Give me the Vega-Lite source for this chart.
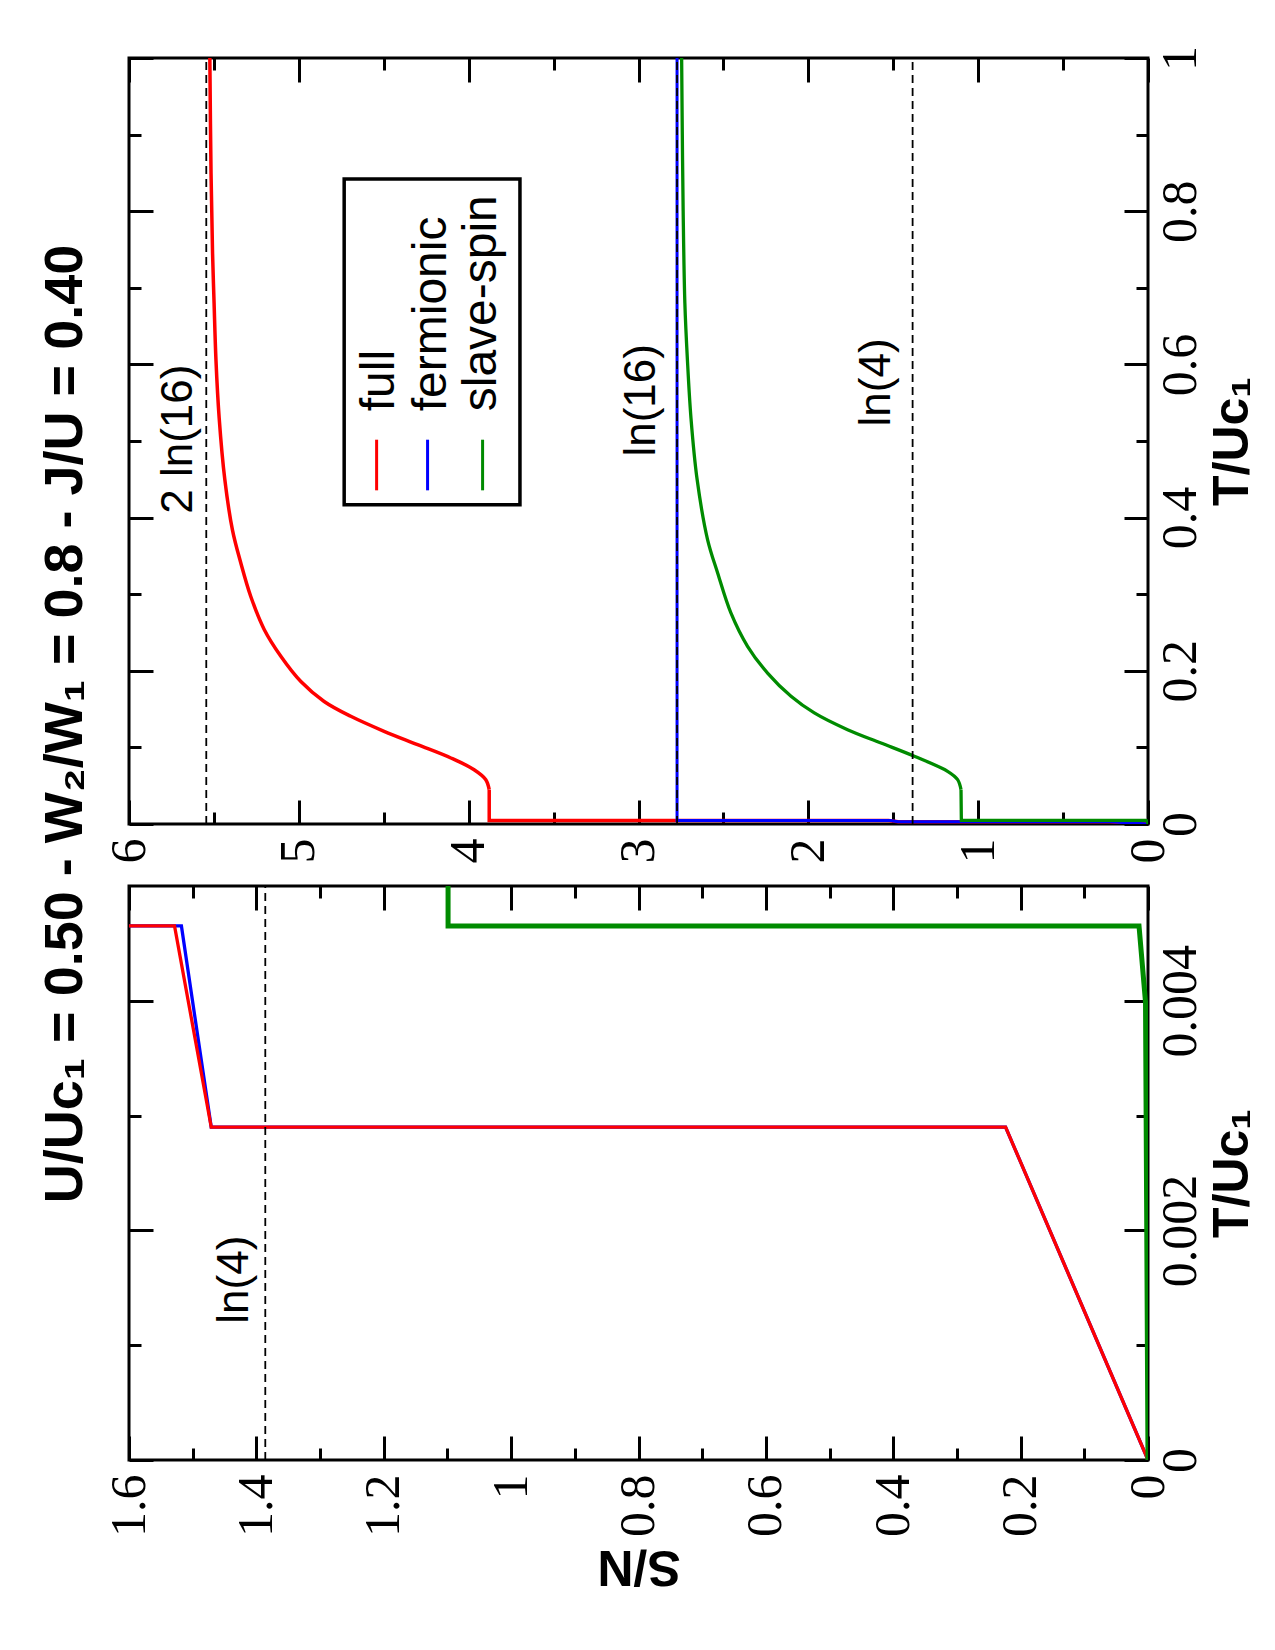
{
  "$schema": "https://vega.github.io/schema/vega-lite/v6.json",
  "padding": {"left": 38, "top": 43, "right": 5, "bottom": 5},
  "title": {"text": "U/Uc₁ = 0.50 - W₂/W₁ = 0.8 - J/U = 0.40", "orient": "left", "anchor": "middle", "font": "Liberation Sans", "fontSize": 54, "fontWeight": "bold", "color": "black", "offset": 10, "dx": 94},
  "spacing": 18,
  "datasets": {
    "curves": [
      {"series": "full", "T": 0, "S": 0},
      {"series": "full", "T": 0.0029, "S": 0.2236},
      {"series": "full", "T": 0.0029, "S": 1.4709},
      {"series": "full", "T": 0.004652, "S": 1.5285},
      {"series": "full", "T": 0.004652, "S": 3.879},
      {"series": "full", "T": 0.0448, "S": 3.879},
      {"series": "full", "T": 0.0579, "S": 3.899},
      {"series": "full", "T": 0.0709, "S": 3.968},
      {"series": "full", "T": 0.0862, "S": 4.105},
      {"series": "full", "T": 0.1036, "S": 4.301},
      {"series": "full", "T": 0.121, "S": 4.498},
      {"series": "full", "T": 0.1406, "S": 4.694},
      {"series": "full", "T": 0.16, "S": 4.851},
      {"series": "full", "T": 0.186, "S": 4.988},
      {"series": "full", "T": 0.219, "S": 5.106},
      {"series": "full", "T": 0.254, "S": 5.204},
      {"series": "full", "T": 0.297, "S": 5.283},
      {"series": "full", "T": 0.341, "S": 5.342},
      {"series": "full", "T": 0.384, "S": 5.391},
      {"series": "full", "T": 0.45, "S": 5.436},
      {"series": "full", "T": 0.53, "S": 5.469},
      {"series": "full", "T": 0.606, "S": 5.488},
      {"series": "full", "T": 0.68, "S": 5.499},
      {"series": "full", "T": 0.745, "S": 5.508},
      {"series": "full", "T": 0.85, "S": 5.517},
      {"series": "full", "T": 1.0, "S": 5.524},
      {"series": "fermionic", "T": 0, "S": 0},
      {"series": "fermionic", "T": 0.0029, "S": 0.2236},
      {"series": "fermionic", "T": 0.0029, "S": 1.4709},
      {"series": "fermionic", "T": 0.004652, "S": 1.5177},
      {"series": "fermionic", "T": 0.004652, "S": 2.773},
      {"series": "fermionic", "T": 1.0, "S": 2.773},
      {"series": "slave-spin", "T": 0, "S": 0},
      {"series": "slave-spin", "T": 0.00399, "S": 0.0039},
      {"series": "slave-spin", "T": 0.004652, "S": 0.0141},
      {"series": "slave-spin", "T": 0.004652, "S": 1.099},
      {"series": "slave-spin", "T": 0.0448, "S": 1.101},
      {"series": "slave-spin", "T": 0.0579, "S": 1.121},
      {"series": "slave-spin", "T": 0.0688, "S": 1.18},
      {"series": "slave-spin", "T": 0.0884, "S": 1.376},
      {"series": "slave-spin", "T": 0.1057, "S": 1.572},
      {"series": "slave-spin", "T": 0.1231, "S": 1.769},
      {"series": "slave-spin", "T": 0.145, "S": 1.965},
      {"series": "slave-spin", "T": 0.1667, "S": 2.102},
      {"series": "slave-spin", "T": 0.197, "S": 2.24},
      {"series": "slave-spin", "T": 0.232, "S": 2.358},
      {"series": "slave-spin", "T": 0.2755, "S": 2.456},
      {"series": "slave-spin", "T": 0.3277, "S": 2.534},
      {"series": "slave-spin", "T": 0.371, "S": 2.593},
      {"series": "slave-spin", "T": 0.45, "S": 2.655},
      {"series": "slave-spin", "T": 0.53, "S": 2.691},
      {"series": "slave-spin", "T": 0.606, "S": 2.712},
      {"series": "slave-spin", "T": 0.68, "S": 2.727},
      {"series": "slave-spin", "T": 0.8, "S": 2.737},
      {"series": "slave-spin", "T": 0.9, "S": 2.742},
      {"series": "slave-spin", "T": 1.0, "S": 2.746}
    ],
    "refs": [
      {"label": "2 ln(16)", "S": 5.545},
      {"label": "ln(16)", "S": 2.773},
      {"label": "ln(4)", "S": 1.386}
    ]
  },
  "vconcat": [
    {
      "width": 1019,
      "height": 766,
      "layer": [
        {
          "data": {"name": "curves"},
          "transform": [{"filter": "datum.series === 'full' && datum.T <= 0.0448"}],
          "mark": {"type": "line", "color": "#ff0000", "strokeWidth": 3.5, "clip": true},
          "encoding": {
            "x": {"field": "S", "type": "quantitative", "scale": {"domain": [0, 6], "reverse": true, "nice": false},
                  "axis": {"orient": "bottom", "values": [0, 1, 2, 3, 4, 5, 6], "format": "~g", "tickSize": -24, "labelAngle": 270, "labelAlign": "right", "labelBaseline": "middle", "labelPadding": 38, "title": null}},
            "y": {"field": "T", "type": "quantitative", "scale": {"domain": [0, 1], "nice": false},
                  "axis": {"orient": "right", "values": [0, 0.2, 0.4, 0.6, 0.8, 1], "format": "~g", "tickSize": -24, "labelAngle": 270, "labelAlign": "center", "labelBaseline": "top", "labelPadding": 31, "title": "T/Uc₁", "titleAngle": 270, "titleBaseline": "top", "titlePadding": 2}},
            "order": {"value": null}
          }
        },
        {
          "data": {"name": "curves"},
          "transform": [{"filter": "datum.series === 'full' && datum.T >= 0.0448"}],
          "mark": {"type": "line", "color": "#ff0000", "strokeWidth": 3.5, "clip": true, "interpolate": "catmull-rom"},
          "encoding": {
            "x": {"field": "S", "type": "quantitative", "axis": null},
            "y": {"field": "T", "type": "quantitative", "axis": null},
            "order": {"value": null}
          }
        },
        {
          "data": {"name": "curves"},
          "transform": [{"filter": "datum.series === 'fermionic'"}],
          "mark": {"type": "line", "color": "#0000ff", "strokeWidth": 3, "clip": true},
          "encoding": {
            "x": {"field": "S", "type": "quantitative", "axis": {"orient": "top", "values": [0, 1, 2, 3, 4, 5, 6], "tickSize": -24, "labels": false, "title": null}},
            "y": {"field": "T", "type": "quantitative", "axis": {"orient": "left", "values": [0, 0.2, 0.4, 0.6, 0.8, 1], "tickSize": -24, "labels": false, "title": null}},
            "order": {"value": null}
          }
        },
        {
          "data": {"name": "curves"},
          "transform": [{"filter": "datum.series === 'slave-spin' && datum.T <= 0.0448"}],
          "mark": {"type": "line", "color": "#008b00", "strokeWidth": 3.3, "clip": true},
          "encoding": {
            "x": {"field": "S", "type": "quantitative", "axis": {"orient": "bottom", "values": [0.5, 1.5, 2.5, 3.5, 4.5, 5.5], "tickSize": -12, "labels": false, "title": null}},
            "y": {"field": "T", "type": "quantitative", "axis": {"orient": "right", "values": [0.1, 0.3, 0.5, 0.7, 0.9], "tickSize": -12, "labels": false, "title": null}},
            "order": {"value": null}
          }
        },
        {
          "data": {"name": "curves"},
          "transform": [{"filter": "datum.series === 'slave-spin' && datum.T >= 0.0448"}],
          "mark": {"type": "line", "color": "#008b00", "strokeWidth": 3.3, "clip": true, "interpolate": "catmull-rom"},
          "encoding": {
            "x": {"field": "S", "type": "quantitative", "axis": null},
            "y": {"field": "T", "type": "quantitative", "axis": null},
            "order": {"value": null}
          }
        },
        {
          "data": {"name": "refs"},
          "mark": {"type": "rule", "color": "black", "strokeWidth": 1.8, "strokeDash": [8, 5], "clip": true},
          "encoding": {
            "x": {"field": "S", "type": "quantitative", "axis": {"orient": "top", "values": [0.5, 1.5, 2.5, 3.5, 4.5, 5.5], "tickSize": -12, "labels": false, "title": null}},
            "y": {"datum": 0, "axis": {"orient": "left", "values": [0.1, 0.3, 0.5, 0.7, 0.9], "tickSize": -12, "labels": false, "title": null}},
            "y2": {"datum": 1}
          }
        },
        {
          "data": {"values": [{}]},
          "mark": {"type": "text", "angle": 270, "align": "left", "baseline": "alphabetic", "font": "Liberation Sans", "fontSize": 44, "color": "black"},
          "encoding": {"x": {"datum": 5.63, "axis": null}, "y": {"datum": 0.405, "axis": null}, "text": {"value": "2 ln(16)"}}
        },
        {
          "data": {"values": [{}]},
          "mark": {"type": "text", "angle": 270, "align": "left", "baseline": "alphabetic", "font": "Liberation Sans", "fontSize": 44, "color": "black"},
          "encoding": {"x": {"datum": 2.905, "axis": null}, "y": {"datum": 0.4797, "axis": null}, "text": {"value": "ln(16)"}}
        },
        {
          "data": {"values": [{}]},
          "mark": {"type": "text", "angle": 270, "align": "left", "baseline": "alphabetic", "font": "Liberation Sans", "fontSize": 44, "color": "black"},
          "encoding": {"x": {"datum": 1.518, "axis": null}, "y": {"datum": 0.519, "axis": null}, "text": {"value": "ln(4)"}}
        },
        {
          "data": {"values": [{}]},
          "mark": {"type": "rect", "fill": "white", "stroke": "black", "strokeWidth": 3.5},
          "encoding": {"x": {"datum": 4.733, "axis": null}, "x2": {"datum": 3.698}, "y": {"datum": 0.842, "axis": null}, "y2": {"datum": 0.4168}}
        },
        {
          "data": {"values": [{}]},
          "mark": {"type": "rule", "color": "#ff0000", "strokeWidth": 3},
          "encoding": {"x": {"datum": 4.542, "axis": null}, "y": {"datum": 0.5017, "axis": null}, "y2": {"datum": 0.4356}}
        },
        {
          "data": {"values": [{}]},
          "mark": {"type": "rule", "color": "#0000ff", "strokeWidth": 3},
          "encoding": {"x": {"datum": 4.242, "axis": null}, "y": {"datum": 0.5017, "axis": null}, "y2": {"datum": 0.4356}}
        },
        {
          "data": {"values": [{}]},
          "mark": {"type": "rule", "color": "#008b00", "strokeWidth": 3},
          "encoding": {"x": {"datum": 3.918, "axis": null}, "y": {"datum": 0.5017, "axis": null}, "y2": {"datum": 0.4356}}
        },
        {
          "data": {"values": [{}]},
          "mark": {"type": "text", "angle": 270, "align": "left", "baseline": "alphabetic", "font": "Liberation Sans", "fontSize": 48, "color": "black"},
          "encoding": {"x": {"datum": 4.438, "axis": null}, "y": {"datum": 0.5388, "axis": null}, "text": {"value": "full"}}
        },
        {
          "data": {"values": [{}]},
          "mark": {"type": "text", "angle": 270, "align": "left", "baseline": "alphabetic", "font": "Liberation Sans", "fontSize": 48, "color": "black"},
          "encoding": {"x": {"datum": 4.134, "axis": null}, "y": {"datum": 0.5388, "axis": null}, "text": {"value": "fermionic"}}
        },
        {
          "data": {"values": [{}]},
          "mark": {"type": "text", "angle": 270, "align": "left", "baseline": "alphabetic", "font": "Liberation Sans", "fontSize": 48, "color": "black"},
          "encoding": {"x": {"datum": 3.84, "axis": null}, "y": {"datum": 0.5388, "axis": null}, "text": {"value": "slave-spin"}}
        }
      ],
      "resolve": {"axis": {"x": "independent", "y": "independent"}}
    },
    {
      "width": 1019,
      "height": 574,
      "layer": [
        {
          "data": {"name": "curves"},
          "transform": [{"filter": "datum.series === 'fermionic'"}],
          "mark": {"type": "line", "color": "#0000ff", "strokeWidth": 3.3, "clip": true},
          "encoding": {
            "x": {"field": "S", "type": "quantitative", "scale": {"domain": [0, 1.6], "reverse": true, "nice": false},
                  "axis": {"orient": "bottom", "values": [0, 0.2, 0.4, 0.6, 0.8, 1, 1.2, 1.4, 1.6], "format": "~g", "tickSize": -24, "labelAngle": 270, "labelAlign": "right", "labelBaseline": "middle", "labelPadding": 38, "title": "S/N", "titleAngle": 180, "titleBaseline": "alphabetic", "titlePadding": 14}},
            "y": {"field": "T", "type": "quantitative", "scale": {"domain": [0, 0.005], "nice": false},
                  "axis": {"orient": "right", "values": [0, 0.002, 0.004], "format": "~g", "tickSize": -24, "labelAngle": 270, "labelAlign": "center", "labelBaseline": "top", "labelPadding": 31, "title": "T/Uc₁", "titleAngle": 270, "titleBaseline": "top", "titlePadding": 2}},
            "order": {"value": null}
          }
        },
        {
          "data": {"name": "curves"},
          "transform": [{"filter": "datum.series === 'full'"}],
          "mark": {"type": "line", "color": "#ff0000", "strokeWidth": 3.3, "clip": true},
          "encoding": {
            "x": {"field": "S", "type": "quantitative", "axis": {"orient": "top", "values": [0, 0.2, 0.4, 0.6, 0.8, 1, 1.2, 1.4, 1.6], "tickSize": -24, "labels": false, "title": null}},
            "y": {"field": "T", "type": "quantitative", "axis": {"orient": "left", "values": [0, 0.002, 0.004], "tickSize": -24, "labels": false, "title": null}},
            "order": {"value": null}
          }
        },
        {
          "data": {"name": "curves"},
          "transform": [{"filter": "datum.series === 'slave-spin'"}],
          "mark": {"type": "line", "color": "#008b00", "strokeWidth": 5, "clip": true},
          "encoding": {
            "x": {"field": "S", "type": "quantitative", "axis": {"orient": "bottom", "values": [0.1, 0.3, 0.5, 0.7, 0.9, 1.1, 1.3, 1.5], "tickSize": -12, "labels": false, "title": null}},
            "y": {"field": "T", "type": "quantitative", "axis": {"orient": "right", "values": [0.001, 0.003], "tickSize": -12, "labels": false, "title": null}},
            "order": {"value": null}
          }
        },
        {
          "data": {"name": "refs"},
          "transform": [{"filter": "datum.S < 1.6"}],
          "mark": {"type": "rule", "color": "black", "strokeWidth": 1.8, "strokeDash": [8, 5], "clip": true},
          "encoding": {
            "x": {"field": "S", "type": "quantitative", "axis": {"orient": "top", "values": [0.1, 0.3, 0.5, 0.7, 0.9, 1.1, 1.3, 1.5], "tickSize": -12, "labels": false, "title": null}},
            "y": {"datum": 0, "axis": {"orient": "left", "values": [0.001, 0.003], "tickSize": -12, "labels": false, "title": null}},
            "y2": {"datum": 0.005}
          }
        },
        {
          "data": {"values": [{}]},
          "mark": {"type": "text", "angle": 270, "align": "left", "baseline": "alphabetic", "font": "Liberation Sans", "fontSize": 44, "color": "black"},
          "encoding": {"x": {"datum": 1.413, "axis": null}, "y": {"datum": 0.001187, "axis": null}, "text": {"value": "ln(4)"}}
        }
      ],
      "resolve": {"axis": {"x": "independent", "y": "independent"}}
    }
  ],
  "config": {
    "view": {"stroke": "black", "strokeWidth": 3},
    "axis": {"domain": false, "grid": false, "tickColor": "black", "tickWidth": 3, "labelFont": "Liberation Serif", "labelFontSize": 50, "labelColor": "black", "titleFont": "Liberation Sans", "titleFontWeight": "bold", "titleFontSize": 50, "titleColor": "black", "labelFlush": false, "labelOverlap": false, "labelBound": false},
    "text": {"font": "Liberation Sans", "color": "black"}
  }
}
